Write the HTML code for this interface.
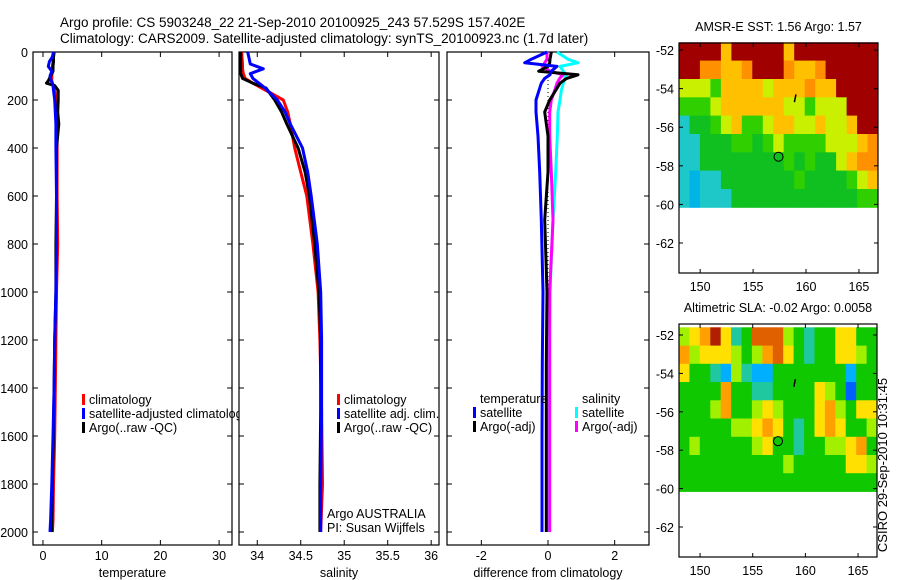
<!DOCTYPE html>
<html><head><meta charset="utf-8">
<style>
html,body{margin:0;padding:0;background:#fff;}
svg{display:block;font-family:"Liberation Sans",sans-serif;}
</style></head>
<body>
<svg id="fig" width="900" height="580" viewBox="0 0 900 580" xmlns="http://www.w3.org/2000/svg">
<text x="60" y="27" font-size="13.5">Argo profile: CS 5903248_22 21-Sep-2010 20100925_243 57.529S 157.402E</text>
<text x="60" y="43" font-size="13.5">Climatology: CARS2009. Satellite-adjusted climatology: synTS_20100923.nc (1.7d later)</text>
<g id="g1"></g>
<g id="g2"></g>
<g id="g3"></g>
<g id="m1"></g>
<g id="m2"></g>
<text transform="translate(887,465) rotate(-90)" text-anchor="middle" font-size="13">CSIRO 29-Sep-2010 10:31:45</text>
</svg>
<script>
// ---------- data ----------
const tDepth=[0,20,40,60,80,100,120,130,140,160,200,250,300,400,600,800,1000,1200,1400,1600,1800,1950,2000];
const tClim=[1.9,1.8,1.7,1.6,1.6,1.5,1.5,1.6,1.8,2.0,2.3,2.4,2.4,2.4,2.4,2.5,2.3,2.2,2.1,2.0,1.8,1.7,1.6];
const tSat=[1.8,1.6,1.1,0.9,1.5,1.2,1.4,1.6,1.7,1.8,2.0,2.1,2.2,2.2,2.3,2.3,2.2,2.0,1.9,1.7,1.5,1.3,1.2];
const tArgo=[1.9,1.8,1.8,1.7,1.7,1.3,0.9,0.6,2.0,2.6,2.6,2.5,2.7,2.3,2.3,2.2,2.2,2.0,1.9,1.8,1.6,1.5,1.5];
const sDepth=[0,50,70,90,110,130,150,200,250,300,400,500,600,800,1000,1200,1500,1800,2000];
const sClim=[33.82,33.83,33.83,33.84,33.86,33.95,34.05,34.30,34.35,34.38,34.43,34.50,34.57,34.64,34.70,34.72,34.74,34.75,34.73];
const sArgo=[33.81,33.81,33.81,33.81,33.83,33.95,34.10,34.20,34.28,34.34,34.47,34.55,34.60,34.66,34.71,34.73,34.73,34.72,34.72];
const sSat=[33.89,33.92,34.07,33.92,33.95,34.02,34.09,34.23,34.32,34.38,34.52,34.58,34.62,34.69,34.73,34.74,34.74,34.73,34.73];
const dDepth=[0,30,45,60,80,95,110,130,160,200,250,350,500,700,1000,1300,1600,1800,2000];
const dTSat=[-0.03,-0.5,-0.7,0.27,0.1,0.06,-0.1,-0.2,-0.27,-0.36,-0.36,-0.3,-0.25,-0.2,-0.15,-0.17,-0.18,-0.18,-0.18];
const dTArgo=[0.1,0.06,0.05,0.0,-0.28,0.9,0.56,0.36,0.23,0.05,-0.1,0.0,0.0,-0.1,-0.03,-0.05,-0.05,-0.05,-0.05];
const dSSat=[0.27,0.6,0.9,0.36,0.46,0.55,0.5,0.46,0.4,0.36,0.3,0.28,0.23,0.15,0.06,0.03,0.01,0.0,0.0];
const dSArgo=[-0.03,-0.03,-0.1,-0.17,0.06,0.45,0.35,0.27,0.2,0.1,0.05,0.05,0.1,0.15,0.05,0.05,0.05,0.05,0.05];
const depthTicks=[0,200,400,600,800,1000,1200,1400,1600,1800,2000];
const tTicks=[0,10,20,30];
const sTicks=[34,34.5,35,35.5,36];
const dTicks=[-2,0,2];
const lonTicks=[150,155,160,165];
const latTicks=[-52,-54,-56,-58,-60,-62];
const sstRows=[
"9999799999799999999",
"9988778999877899999",
"6665777767778779999",
"5556777777665666999",
"3445675567766766799",
"3344455456555566678",
"3344444444545446788",
"3233444444454444567",
"3233344444444444455"];
const slaRows=[
"5679634888543446644",
"7566654578643446654",
"6443253224444444244",
"4444744334444654144",
"4445744565444675466",
"4444455676434676445",
"4544444564434455674",
"4444444444544444665",
"4444444444444444444"];
const sstPal=["#0060ff","#0090ff","#00b4e6","#1ec8c8","#10c020","#30d000","#c8f000","#ffc000","#ff9000","#a00000"];
const slaPal=["#0030e0","#0060ff","#00b0ff","#20c8a0","#10c800","#a0f000","#ffe000","#ffa000","#e06000","#b02000"];

// ---------- helpers ----------
const NS="http://www.w3.org/2000/svg";
function mk(parent,tag,attrs,txt){const e=document.createElementNS(NS,tag);for(const k in attrs)e.setAttribute(k,attrs[k]);if(txt!==undefined)e.textContent=txt;parent.appendChild(e);return e;}
const TOP=52,BOT=545;
const yD=d=>TOP+d*0.24;

function panel(g,L,R,xmin,xmax,xticks,xlabel,showY){
  const xs=v=>L+(v-xmin)/(xmax-xmin)*(R-L);
  const box=mk(g,"rect",{x:L,y:TOP,width:R-L,height:BOT-TOP,fill:"none",stroke:"#000","stroke-width":1.2});
  
  
  depthTicks.forEach(d=>{
    mk(g,"line",{x1:L,x2:L+5,y1:yD(d),y2:yD(d),stroke:"#000"});
    mk(g,"line",{x1:R,x2:R-5,y1:yD(d),y2:yD(d),stroke:"#000"});
    if(showY){const t=mk(g,"text",{x:L-5,y:yD(d)+5,"text-anchor":"end","font-size":12.5},String(d));
      
      }
  });
  xticks.forEach(v=>{
    mk(g,"line",{x1:xs(v),x2:xs(v),y1:BOT,y2:BOT-5,stroke:"#000"});
    mk(g,"line",{x1:xs(v),x2:xs(v),y1:TOP,y2:TOP+5,stroke:"#000"});
    const t=mk(g,"text",{x:xs(v),y:BOT+15,"text-anchor":"middle","font-size":12.5},String(v));
    
    
  });
  const xl=mk(g,"text",{x:(L+R)/2,y:BOT+32,"text-anchor":"middle","font-size":12.5},xlabel);
  
  
  return xs;
}
function line(g,xs,depths,vals,color,name){
  const pts=vals.map((v,i)=>xs(v).toFixed(1)+","+yD(depths[i]).toFixed(1)).join(" ");
  const p=mk(g,"polyline",{points:pts,fill:"none",stroke:color,"stroke-width":3,"stroke-linejoin":"round"});
  
  
}
function legend(g,x,y,items){
  items.forEach((it,i)=>{
    if(it[0])mk(g,"rect",{x:x,y:y+i*14-10,width:3,height:11,fill:it[0]});
    const t=mk(g,"text",{x:x+7,y:y+i*14,"font-size":12.5},it[1]);
    
    
  });
}

// Panel 1
const g1=document.getElementById("g1");
const x1=panel(g1,33,232,-1.7,32.2,tTicks,"temperature",true);
line(g1,x1,tDepth,tClim,"#f00","climatology-temperature-line");
line(g1,x1,tDepth,tArgo,"#000","argo-temperature-line");
line(g1,x1,tDepth,tSat,"#00f","satellite-temperature-line");
const cl1=mk(g1,"clipPath",{id:"c1"});mk(cl1,"rect",{x:33,y:0,width:206,height:580});
const lg1=mk(g1,"g",{"clip-path":"url(#c1)"});
legend(lg1,82,404,[["#f00","climatology"],["#00f","satellite-adjusted climatology"],["#000","Argo(..raw -QC)"]]);

// Panel 2
const g2=document.getElementById("g2");
const x2=panel(g2,239,439,33.79,36.09,sTicks,"salinity",false);
line(g2,x2,sDepth,sClim,"#f00","climatology-salinity-line");
line(g2,x2,sDepth,sArgo,"#000","argo-salinity-line");
line(g2,x2,sDepth,sSat,"#00f","satellite-salinity-line");
legend(g2,337,404,[["#f00","climatology"],["#00f","satellite adj. clim."],["#000","Argo(..raw -QC)"]]);
mk(g2,"text",{x:327,y:518,"font-size":12.5},"Argo AUSTRALIA");
mk(g2,"text",{x:327,y:532,"font-size":12.5},"PI: Susan Wijffels");

// Panel 3
const g3=document.getElementById("g3");
const x3=panel(g3,447,649,-3.03,3.03,dTicks,"difference from climatology",false);
mk(g3,"line",{x1:x3(0),x2:x3(0),y1:yD(0),y2:yD(2000),stroke:"#000","stroke-dasharray":"1,3"});
line(g3,x3,dDepth,dSSat,"#0ff","salinity-satellite-diff-line");
line(g3,x3,dDepth,dSArgo,"#f0f","salinity-argo-diff-line");
line(g3,x3,dDepth,dTArgo,"#000","temperature-argo-diff-line");
line(g3,x3,dDepth,dTSat,"#00f","temperature-satellite-diff-line");
legend(g3,473,403,[[null,"temperature"],["#00f","satellite"],["#000","Argo(-adj)"]]);
legend(g3,575,403,[[null,"salinity"],["#0ff","satellite"],["#f0f","Argo(-adj)"]]);

// Maps
function map(g,L,R,T,B,lat0y,lat62y,rows,pal,title){
  const lonMin=148,lonMax=166.8;
  const xs=v=>L+(v-lonMin)/(lonMax-lonMin)*(R-L);
  const ppd=(lat62y-lat0y)/10;
  const ys=v=>lat0y+(-52-v)*ppd;
  rows.forEach((row,r)=>{
    const latTop=-51.6-r*0.95, latBot=latTop-0.95;
    row.split("").forEach((c,k)=>{
      const lo=lonMin+k*(lonMax-lonMin)/row.length, hi=lonMin+(k+1)*(lonMax-lonMin)/row.length;
      const cell=mk(g,"rect",{x:xs(lo).toFixed(1),y:ys(latTop).toFixed(1),width:(xs(hi)-xs(lo)+0.5).toFixed(1),height:(ys(latBot)-ys(latTop)+0.5).toFixed(1),fill:pal[+c]});
      
      
    });
  });
  mk(g,"rect",{x:L,y:T,width:R-L,height:B-T,fill:"none",stroke:"#000","stroke-width":1.2});
  latTicks.forEach(v=>{
    mk(g,"line",{x1:L,x2:L+4,y1:ys(v),y2:ys(v),stroke:"#000"});
    mk(g,"line",{x1:R,x2:R-4,y1:ys(v),y2:ys(v),stroke:"#000"});
    mk(g,"text",{x:L-5,y:ys(v)+5,"text-anchor":"end","font-size":12.5},String(v));
  });
  lonTicks.forEach(v=>{
    mk(g,"line",{x1:xs(v),x2:xs(v),y1:B,y2:B-4,stroke:"#000"});
    mk(g,"line",{x1:xs(v),x2:xs(v),y1:T,y2:T+4,stroke:"#000"});
    mk(g,"text",{x:xs(v),y:B+18,"text-anchor":"middle","font-size":12.5},String(v));
  });
  const c=mk(g,"circle",{cx:xs(157.402),cy:ys(-57.529),r:4.5,fill:"none",stroke:"#000"});
  
  
  mk(g,"line",{x1:xs(158.9),x2:xs(159.05),y1:ys(-54.7),y2:ys(-54.3),stroke:"#000","stroke-width":1.5});
  const t=mk(g,"text",{x:(L+R)/2,y:T-12,"text-anchor":"middle","font-size":12.5},title);
  
  
}
map(document.getElementById("m1"),679,878,43,273,50,243,sstRows,sstPal,"AMSR-E SST: 1.56 Argo: 1.57");
map(document.getElementById("m2"),679,877,324,557,335,527,slaRows,slaPal,"Altimetric SLA: -0.02 Argo: 0.0058");
</script>
</body></html>
